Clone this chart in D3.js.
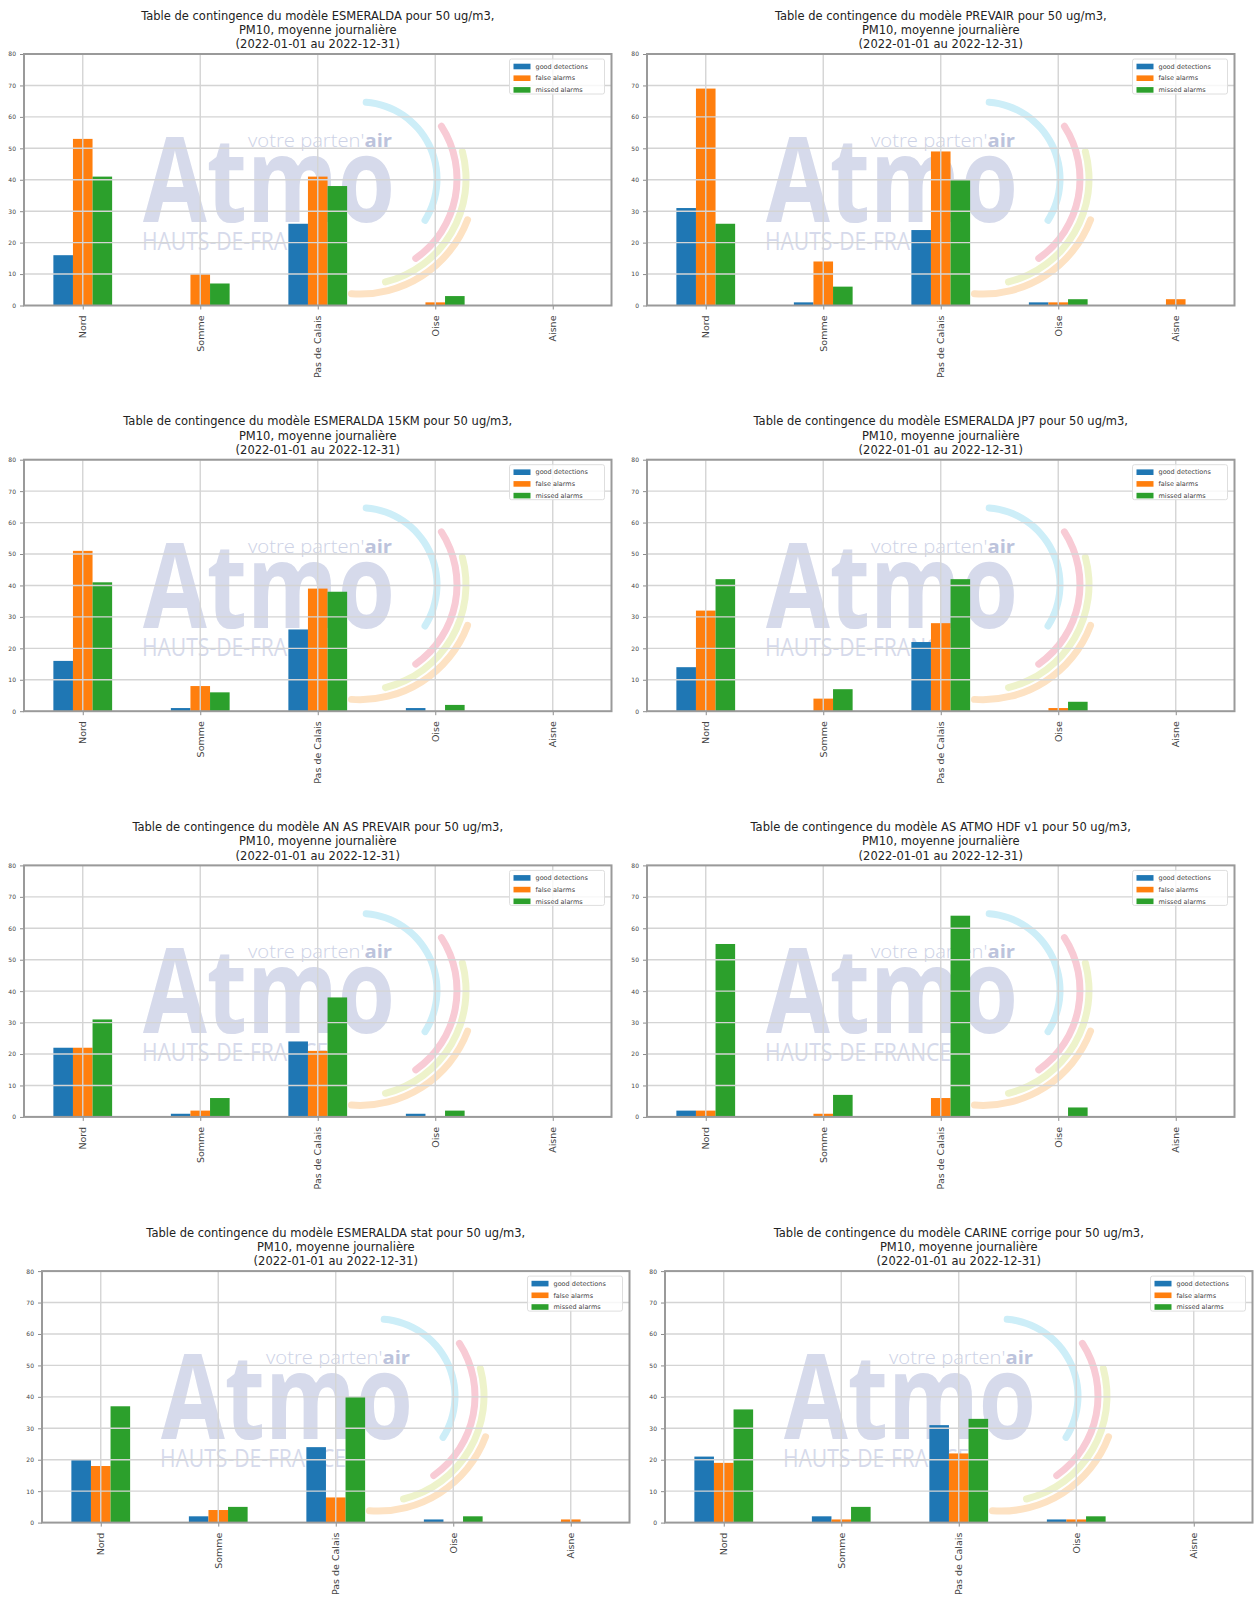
<!DOCTYPE html>
<html>
<head>
<meta charset="utf-8">
<script src="https://cdn.jsdelivr.net/npm/d3@7"></script>
<style>
  html, body { margin: 0; padding: 0; background: #ffffff; }
  svg { display: block; }
</style>
</head>
<body>
<svg id="chart" width="1256" height="1600"></svg>
<script>
// Departments on the x axis
const regions = ["Nord", "Somme", "Pas de Calais", "Oise", "Aisne"];
// Series shown in each panel
const seriesNames = ["good detections", "false alarms", "missed alarms"];
// Forecast models, one panel each
const models = ["ESMERALDA", "PREVAIR", "ESMERALDA 15KM", "ESMERALDA JP7",
                "AN AS PREVAIR", "AS ATMO HDF v1", "ESMERALDA stat", "CARINE corrige"];
// Counts per model (rows) and department (columns)
const goodDetections = [
  [16, 0, 26, 0, 0],
  [31, 1, 24, 1, 0],
  [16, 1, 26, 1, 0],
  [14, 0, 22, 0, 0],
  [22, 1, 24, 1, 0],
  [2, 0, 0, 0, 0],
  [20, 2, 24, 1, 0],
  [21, 2, 31, 1, 0]
];
const falseAlarms = [
  [53, 10, 41, 1, 0],
  [69, 14, 49, 1, 2],
  [51, 8, 39, 0, 0],
  [32, 4, 28, 1, 0],
  [22, 2, 21, 0, 0],
  [2, 1, 6, 0, 0],
  [18, 4, 8, 0, 1],
  [19, 1, 22, 1, 0]
];
const missedAlarms = [
  [41, 7, 38, 3, 0],
  [26, 6, 40, 2, 0],
  [41, 6, 38, 2, 0],
  [42, 7, 42, 3, 0],
  [31, 6, 38, 2, 0],
  [55, 7, 64, 3, 0],
  [37, 5, 40, 2, 0],
  [36, 5, 33, 2, 0]
];
const yTicks = [0, 10, 20, 30, 40, 50, 60, 70, 80];
const titleLine2 = "PM10, moyenne journalière";
const titleLine3 = "(2022-01-01 au 2022-12-31)";

const colors = ["#1f77b4", "#ff7f0e", "#2ca02c"];
const svg = d3.select("#chart");

// panel geometry
const plotW = 587.5, plotH = 251.5;
function panelBox(i) {
  const row = Math.floor(i / 2), col = i % 2;
  const shift = row === 3 ? 18 : 0;
  return { left: (col === 0 ? 24 : 647) + shift, top: 54 + row * 405.7 };
}

// background logo drawn inside each plot area
function drawLogo(g, left, top) {
  const w = g.append("g").attr("transform", `translate(${left},${top})`);
  const cx = 336, cy = 125;
  const arcs = [
    { r: 77, a0: 2, a1: 125, c: "#cdeef8" },
    { r: 97, a0: 55, a1: 147, c: "#f8cbd5" },
    { r: 106, a0: 73, a1: 168, c: "#eef3cb" },
    { r: 115, a0: 109, a1: 186, c: "#fde2c3" }
  ];
  arcs.forEach(a => {
    const path = d3.arc()
      .innerRadius(a.r - 3.5).outerRadius(a.r + 3.5)
      .startAngle(a.a0 * Math.PI / 180).endAngle(a.a1 * Math.PI / 180)
      .cornerRadius(3.5);
    w.append("path").attr("d", path()).attr("transform", `translate(${cx},${cy})`)
      .attr("fill", a.c);
  });
  w.append("text").attr("x", 119).attr("y", 168)
    .attr("font-family", "'Open Sans', 'DejaVu Sans', sans-serif")
    .attr("font-weight", 700).attr("font-size", 119)
    .attr("textLength", 252).attr("lengthAdjust", "spacingAndGlyphs")
    .attr("fill", "#d6daeb").text("Atmo");
  const t = w.append("text").attr("x", 224).attr("y", 93)
    .attr("font-family", "'Open Sans', 'DejaVu Sans', sans-serif")
    .attr("font-size", 18).attr("textLength", 144).attr("lengthAdjust", "spacingAndGlyphs")
    .attr("fill", "#cdd2e6");
  t.append("tspan").attr("font-weight", 300).text("votre parten'");
  t.append("tspan").attr("font-weight", 700).attr("fill", "#bcc3dc").text("air");
  w.append("text").attr("x", 118).attr("y", 196)
    .attr("font-family", "'Open Sans', 'DejaVu Sans', sans-serif")
    .attr("font-size", 26).attr("textLength", 186).attr("lengthAdjust", "spacingAndGlyphs")
    .attr("fill", "#d6daeb").text("HAUTS-DE-FRANCE");
}

models.forEach((model, i) => {
  const { left, top } = panelBox(i);
  const right = left + plotW, bottom = top + plotH;
  const g = svg.append("g");

  const x = d3.scaleLinear().domain([-0.5, regions.length - 0.5]).range([left, right]);
  const y = d3.scaleLinear().domain([0, 80]).range([bottom, top]);

  // clip for logo and bars
  const clipId = "clip" + i;
  g.append("clipPath").attr("id", clipId).append("rect")
    .attr("x", left).attr("y", top).attr("width", plotW).attr("height", plotH);
  const inner = g.append("g").attr("clip-path", `url(#${clipId})`);
  drawLogo(inner, left, top);

  // bars
  const values = [goodDetections[i], falseAlarms[i], missedAlarms[i]];
  const bw = 0.5 / 3;
  values.forEach((vals, s) => {
    inner.selectAll(null).data(vals).enter().append("rect")
      .attr("x", (d, k) => x(k - 0.25 + s * bw))
      .attr("width", x(bw) - x(0))
      .attr("y", d => y(d))
      .attr("height", d => y(0) - y(d))
      .attr("fill", colors[s]);
  });

  // grid
  const grid = g.append("g").attr("stroke", "#d4d4d4").attr("stroke-width", 1.4);
  grid.selectAll(null).data(yTicks.slice(1)).enter().append("line")
    .attr("x1", left).attr("x2", right).attr("y1", d => y(d)).attr("y2", d => y(d));
  grid.selectAll(null).data(regions).enter().append("line")
    .attr("y1", top).attr("y2", bottom)
    .attr("x1", (d, k) => x(k)).attr("x2", (d, k) => x(k));

  // axes
  const yAxis = d3.axisLeft(y).tickValues(yTicks).tickSize(4).tickPadding(4);
  const ya = g.append("g").attr("transform", `translate(${left},0)`).call(yAxis);
  ya.select(".domain").remove();
  ya.selectAll("line").attr("stroke", "#8c8c8c");
  ya.selectAll("text").attr("font-family", "DejaVu Sans, sans-serif").attr("font-size", 6).attr("fill", "#444");

  const xAxis = d3.axisBottom(x).tickValues(d3.range(regions.length))
    .tickFormat(k => regions[k]).tickSize(4).tickPadding(4);
  const xa = g.append("g").attr("transform", `translate(0,${bottom})`).call(xAxis);
  xa.select(".domain").remove();
  xa.selectAll("line").attr("stroke", "#8c8c8c");
  xa.selectAll("text")
    .attr("font-family", "DejaVu Sans, sans-serif").attr("font-size", 9.5).attr("fill", "#444")
    .attr("transform", "rotate(-90)")
    .attr("text-anchor", "end").attr("x", -10).attr("y", 0).attr("dy", "0.32em");

  // frame
  g.append("rect").attr("x", left).attr("y", top).attr("width", plotW).attr("height", plotH)
    .attr("fill", "none").attr("stroke", "#9a9a9a").attr("stroke-width", 2);

  // legend
  const lg = g.append("g").attr("transform", `translate(${right - 102},${top + 5})`);
  lg.append("rect").attr("width", 95).attr("height", 35).attr("rx", 2)
    .attr("fill", "#ffffff").attr("fill-opacity", 0.8).attr("stroke", "#dedede");
  seriesNames.forEach((name, s) => {
    lg.append("rect").attr("x", 4).attr("y", 7.5 + s * 11.7 - 2.8)
      .attr("width", 17).attr("height", 5.6).attr("fill", colors[s]);
    lg.append("text").attr("x", 26).attr("y", 7.5 + s * 11.7).attr("dy", "0.35em")
      .attr("font-family", "DejaVu Sans, sans-serif").attr("font-size", 6.5).attr("fill", "#444")
      .text(name);
  });

  // title
  const cxT = (left + right) / 2;
  const title = g.append("text").attr("text-anchor", "middle")
    .attr("font-family", "DejaVu Sans, sans-serif").attr("font-size", 11.5).attr("fill", "#222");
  [`Table de contingence du modèle ${model} pour 50 ug/m3,`, titleLine2, titleLine3]
    .forEach((line, l) => {
      title.append("tspan").attr("x", cxT).attr("y", top - 34.5 + l * 14.3).text(line);
    });
});
</script>
</body>
</html>
